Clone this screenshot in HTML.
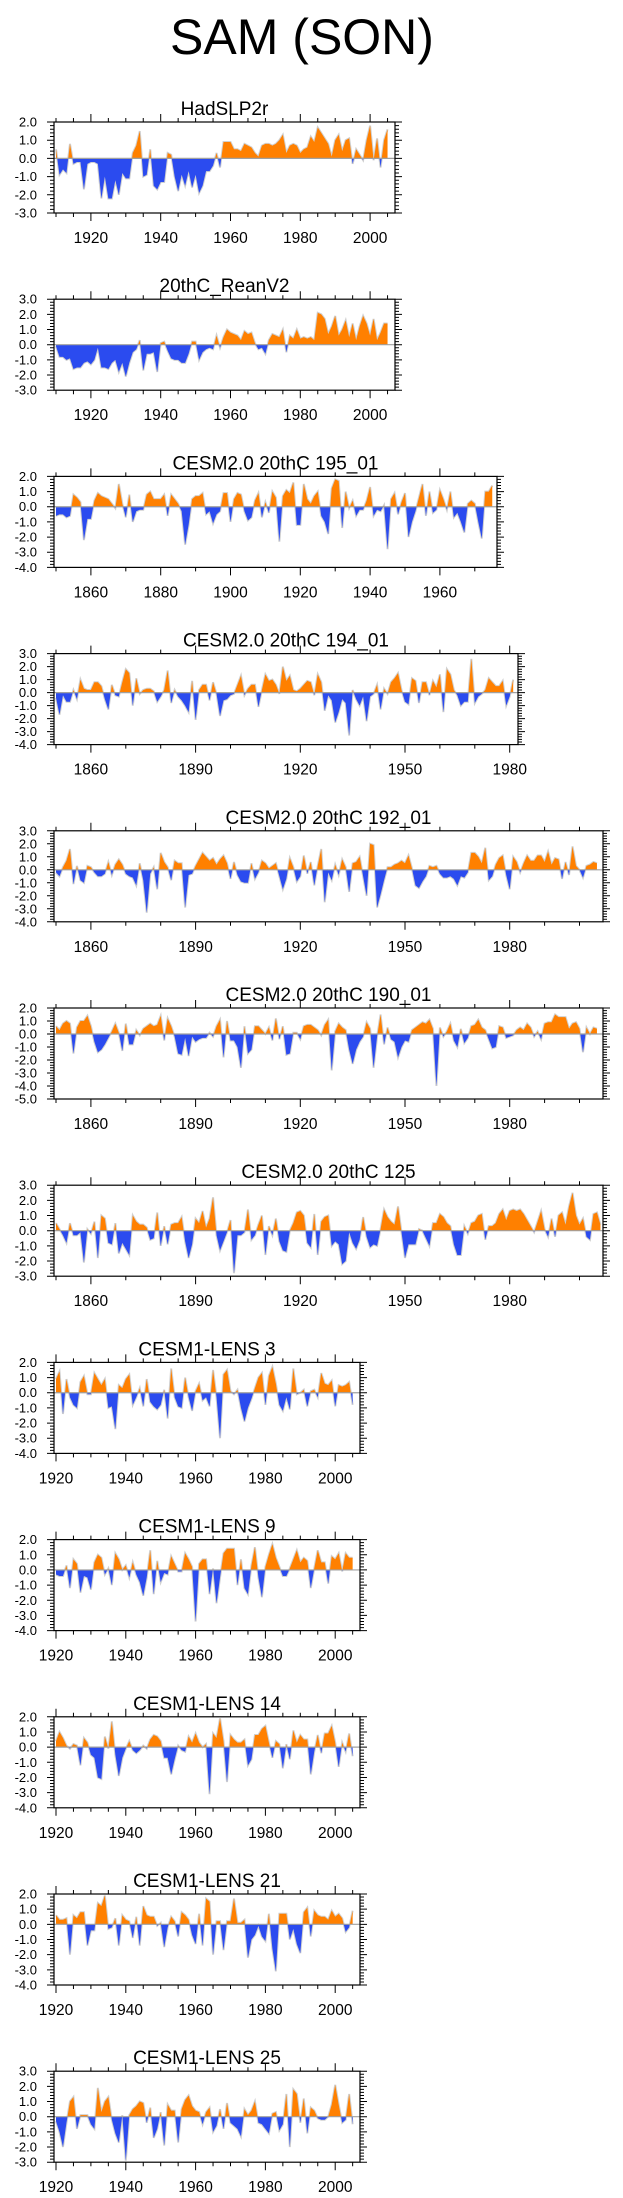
<!DOCTYPE html>
<html><head><meta charset="utf-8">
<style>
html,body{margin:0;padding:0;background:#fff;}
svg{display:block;font-family:"Liberation Sans",sans-serif;}
</style></head>
<body>
<svg id="fig" width="623" height="2198" viewBox="0 0 623 2198" xmlns="http://www.w3.org/2000/svg">
<text x="302" y="54" font-size="50" text-anchor="middle" fill="#000">SAM (SON)</text>
</svg>
<script>
const panelTitles = ["HadSLP2r","20thC_ReanV2","CESM2.0 20thC 195_01","CESM2.0 20thC 194_01","CESM2.0 20thC 192_01","CESM2.0 20thC 190_01","CESM2.0 20thC 125","CESM1-LENS 3","CESM1-LENS 9","CESM1-LENS 14","CESM1-LENS 21","CESM1-LENS 25"];
const startYears = [1910,1910,1850,1850,1850,1850,1850,1920,1920,1920,1920,1920];
const yMaxs = [2,3,2,3,3,2,3,2,2,2,2,3];
const yMins = [-3,-3,-4,-4,-4,-5,-3,-4,-4,-4,-4,-3];
const xTickFirst = [1910,1910,1850,1850,1850,1850,1850,1920,1920,1920,1920,1920];
const xMajorStep = [20,20,20,30,30,30,30,20,20,20,20,20];
const xMinorStep = [5,5,10,10,10,10,10,5,5,5,5,5];
const xLabelFirst = [1920,1920,1860,1860,1860,1860,1860,1920,1920,1920,1920,1920];
const xLabelLast = [2000,2000,1960,1980,1980,1980,1980,2000,2000,2000,2000,2000];

const vHad = [0.5,-0.9,-0.6,-0.8,0.8,-0.3,-0.2,-0.2,-1.7,-0.3,-0.2,-0.2,-0.3,-2.2,-1.0,-2.2,-2.2,-1.2,-2.0,-0.8,-1.1,-1.1,0.3,0.7,1.5,-1.0,-0.9,0.5,-1.5,-1.7,-1.3,-1.3,0.3,0.2,-1.0,-1.8,-0.9,-1.5,-0.7,-1.6,-0.9,-1.9,-1.5,-0.7,-0.7,-0.4,0.3,-0.5,0.9,0.9,0.9,0.5,0.5,0.4,0.8,0.7,0.6,0.3,0.1,0.7,0.8,0.8,0.7,0.8,1.0,1.3,0.3,0.7,0.8,0.7,0.3,0.5,0.6,1.2,0.9,1.7,1.4,1.1,0.8,0.1,1.0,1.3,0.4,1.0,1.1,-0.3,0.5,0.2,-0.1,1.0,1.8,-0.1,1.1,-0.5,1.0,1.6];
const vRean = [-0.1,-0.8,-0.8,-1.0,-0.9,-1.6,-1.5,-1.5,-1.2,-1.1,-1.3,-1.0,-0.2,-1.5,-1.5,-1.6,-1.2,-1.0,-1.8,-1.2,-2.1,-1.2,-0.5,-0.3,0.3,-1.7,-0.6,-0.6,-0.5,-1.8,0.1,0.2,-0.4,-0.9,-1.0,-1.0,-1.2,-1.2,-0.6,0.2,0.2,-1.0,-0.5,-0.3,-0.2,-0.3,0.6,-0.2,0.5,1.0,0.8,0.7,0.6,0.3,0.9,0.7,0.8,0.1,-0.3,-0.2,-0.6,0.3,0.7,0.6,0.5,1.0,-0.5,0.6,0.4,1.0,0.4,0.5,0.4,0.5,0.3,2.1,2.0,1.7,0.7,1.2,1.9,0.6,1.0,1.6,0.5,1.4,0.3,1.2,1.9,1.4,0.6,1.7,0.3,0.8,1.4,1.4];
const v195 = [-0.6,-0.5,-0.5,-0.7,-0.6,0.8,0.6,0.3,-2.2,-0.8,-0.8,0.4,0.9,0.7,0.6,0.5,0.2,-0.1,1.5,0.2,-0.7,0.8,-1.0,-0.3,-0.2,-0.2,0.8,1.0,0.5,0.5,0.5,0.8,-0.6,0.8,0.5,0.2,-0.3,-2.5,-1.2,0.5,0.7,0.7,0.9,-0.5,-0.3,-1.1,-0.5,-0.3,0.9,0.9,-1.0,0.5,0.9,0.8,-0.3,-0.9,-0.7,0.4,0.9,-0.7,0.3,-0.4,1.0,0.6,-2.3,0.7,1.1,0.9,1.6,-1.2,-1.2,1.5,0.5,0.2,0.7,1.0,-0.6,-1.0,-1.8,1.2,1.8,1.7,-1.4,1.0,-0.1,0.4,-0.6,-0.2,-0.2,0.4,1.3,-0.6,-0.2,-0.3,0.1,-2.8,0.5,0.9,-0.5,0.3,0.9,-2.0,-1.0,-0.3,0.6,1.5,-0.6,1.0,-0.4,-0.2,1.1,0.5,-0.2,1.0,-0.7,-0.4,-1.0,-1.7,0.2,0.4,0.2,-1.0,-2.1,1.0,1.0,1.4];
const v194 = [-0.4,-1.7,-0.2,-0.7,-0.7,0.2,-0.5,1.0,0.3,0.2,0.2,0.8,0.8,0.5,-0.5,-1.3,0.6,-0.2,-0.3,0.8,1.8,1.5,-1.0,1.1,-0.1,0.2,0.3,0.3,0.1,-0.7,-0.3,0.2,1.7,-0.8,0.2,-0.3,-0.6,-1.0,-1.5,0.9,-2.1,0.2,0.6,0.6,-0.6,0.8,-0.1,-1.8,-0.6,-0.5,-0.2,-0.1,0.6,1.3,-0.2,0.3,0.6,0.6,-1.1,0.2,1.4,0.9,1.0,0.6,-0.1,2.0,0.9,1.3,0.2,0.1,0.3,0.6,0.9,0.8,-0.2,1.4,0.8,-1.4,-0.2,-0.6,-2.3,-1.5,-0.5,-0.8,-3.3,0.2,-0.5,-1.0,-0.3,-2.2,-0.3,-0.1,0.6,-1.3,0.3,-0.1,0.8,1.1,1.5,0.2,-0.7,-0.9,1.1,0.9,-0.8,0.8,0.8,-0.2,0.9,0.4,1.4,-1.5,1.8,1.4,0.2,-0.2,-1.0,-0.7,-0.7,2.6,-0.8,-0.3,-0.1,0.2,1.1,0.8,0.5,0.5,0.9,-1.0,-0.3,1.0];
const v192 = [-0.2,-0.5,0.2,0.7,1.6,-1.1,0.3,-0.8,-1.0,0.3,0.2,-0.2,-0.5,-0.5,-0.3,0.6,-0.4,0.4,0.8,0.4,-0.3,-0.5,-0.6,-1.2,0.5,-0.8,-3.3,-0.3,0.2,-1.5,1.3,0.6,0.2,-0.8,0.7,0.5,0.5,-2.9,-0.4,-0.3,0.3,0.8,1.3,1.0,0.7,0.9,0.4,0.8,1.1,0.5,-0.7,0.6,-0.4,-0.9,-1.0,-1.0,0.5,-0.7,-0.2,0.7,0.5,0.1,0.3,0.5,-0.5,-1.5,-0.7,0.9,0.2,-0.9,-0.5,1.1,-0.3,0.6,-1.2,0.3,1.6,-2.5,-0.2,-0.8,0.4,-0.4,0.8,0.2,-1.7,0.5,0.6,1.0,-0.5,-2.0,2.0,1.9,-2.9,-1.9,-0.8,0.2,0.2,0.4,0.5,0.7,0.5,1.1,0.1,-1.2,-1.4,-0.9,-0.5,0.3,0.2,0.3,-0.3,-0.6,-0.6,-0.5,-0.7,-1.2,-0.5,-0.6,-0.2,1.3,1.3,1.0,0.5,1.7,-0.8,-0.5,0.4,0.9,1.1,-0.4,-1.5,1.0,0.6,-0.2,0.5,1.1,0.7,0.7,1.1,1.1,0.6,1.4,0.4,0.9,0.8,-0.7,0.6,-0.4,1.8,0.3,0.0,-0.6,0.3,0.4,0.6,0.5];
const v190 = [0.6,0.3,0.8,1.0,0.8,-1.5,0.5,1.0,1.0,1.4,0.6,-0.6,-1.4,-1.2,-0.8,-0.3,0.2,0.8,0.1,-1.3,0.8,-0.8,-0.8,0.3,-0.1,0.4,0.6,0.8,0.6,0.7,1.4,-0.5,1.2,0.6,-0.2,-1.5,-1.6,-0.3,-1.7,-0.2,-0.6,-0.4,-0.3,-0.3,0.1,-0.2,0.6,1.1,-1.8,1.0,-0.5,-0.5,-1.0,-2.6,0.6,-1.5,-1.2,0.6,0.6,0.3,0.0,0.5,-0.5,1.2,-0.4,0.6,-1.6,-1.5,0.1,0.1,-0.4,0.6,0.7,0.7,0.5,0.3,-0.1,0.7,1.1,-2.8,0.2,0.8,0.5,0.3,-1.2,-2.3,-1.2,-0.6,-0.2,0.9,0.4,-2.6,-0.2,1.5,-0.8,0.5,-0.4,-0.6,-1.8,-1.0,-0.5,-0.6,0.3,0.5,0.7,0.9,0.8,1.1,0.4,-4.0,0.5,-0.2,0.2,0.8,-0.5,-1.0,0.4,-0.7,-0.3,0.6,0.7,1.1,0.5,0.3,-0.4,-1.1,-1.0,0.6,0.5,-0.3,-0.2,-0.1,0.3,0.5,0.3,0.8,0.5,-0.2,0.2,-0.4,0.8,0.9,0.9,1.5,1.3,1.3,1.3,0.4,0.8,0.9,0.4,-1.4,0.5,0.0,0.5,0.4];
const v125 = [0.5,0.1,-0.3,-0.8,0.5,-0.3,-0.3,-0.1,-2.1,0.1,-0.2,0.6,-1.8,1.0,0.8,-0.8,-0.9,0.5,-1.5,-0.8,-1.2,-1.6,1.0,0.6,0.4,0.4,0.2,-0.6,-0.5,1.2,-1.0,0.3,-0.9,0.4,0.5,0.5,0.9,-0.7,-1.8,-0.9,0.8,0.5,1.3,0.2,0.8,2.2,-0.3,-1.3,-0.7,-0.1,0.7,-2.8,-0.3,-0.3,-0.1,1.4,-0.6,-0.3,0.4,1.0,-1.6,0.3,-0.3,0.8,-0.7,-1.3,-1.4,0.0,0.5,1.2,1.3,1.0,-0.8,-1.1,1.1,-1.6,0.6,0.9,1.0,-1.0,-0.7,-0.9,-2.2,-2.0,-0.1,-0.8,-1.2,-0.6,0.9,-0.4,-1.1,-0.9,-1.0,0.1,1.4,0.9,0.6,0.4,1.6,-0.1,-1.8,-0.9,-0.9,-0.9,0.1,0.0,-0.5,-1.0,0.5,0.5,1.1,0.9,0.5,0.3,-0.9,-1.6,-1.6,0.3,-0.2,0.5,0.6,1.0,1.1,-0.6,0.3,0.3,0.5,1.1,1.4,0.7,1.3,1.4,1.3,1.4,1.1,0.7,0.3,-0.1,0.6,1.3,0.1,-0.4,0.8,-0.4,1.0,1.2,0.4,1.6,2.5,1.0,0.4,0.8,-0.4,-0.6,1.1,1.2,0.4];
const vL3 = [0.9,1.4,-1.4,0.9,-0.3,-0.8,-1.0,0.7,1.1,-0.1,-0.1,1.3,0.9,0.5,0.9,-1.0,-0.9,-2.4,0.5,0.3,0.9,1.2,-0.8,-0.3,0.3,-0.9,0.9,-0.6,-0.9,-1.1,-0.8,0.2,-1.7,1.6,-0.3,-0.9,-1.0,1.0,-0.3,-1.2,0.1,0.6,-0.5,-0.3,-0.9,1.5,-0.3,-3.0,1.2,1.5,0.1,-0.1,0.2,-1.0,-1.9,-1.0,-0.4,0.3,1.0,1.3,-0.8,1.1,1.7,0.6,-0.8,-1.2,-0.3,-1.1,1.6,-0.1,0.0,0.2,-0.9,0.1,0.2,-0.3,1.3,0.6,0.5,0.8,-0.9,0.5,0.4,0.5,0.7,-0.8];
const vL9 = [-0.3,-0.4,-0.4,0.3,-1.2,0.7,0.4,-1.5,-0.4,-0.5,-1.3,0.5,1.0,0.8,-0.3,0.1,-1.0,1.1,0.7,0.0,0.3,-0.5,0.5,-0.3,-0.8,-1.7,-0.5,1.3,-1.6,0.6,-0.8,-0.2,-0.3,0.9,0.4,-0.1,-0.1,1.1,0.7,0.2,-3.4,0.4,0.7,0.7,-1.6,0.1,-2.2,-0.5,1.1,1.4,1.4,1.4,-1.0,0.7,-1.2,-1.6,0.3,1.5,-0.5,-1.8,0.2,1.0,1.7,0.8,0.2,-0.4,-0.4,0.1,0.7,1.3,0.5,0.8,0.6,-1.2,0.1,1.3,0.5,0.5,-0.9,0.9,0.7,1.1,-0.1,1.1,0.8,0.8];
const vL14 = [0.4,1.0,0.6,0.1,-0.1,0.2,0.1,-1.2,0.6,0.3,-0.5,-0.7,-2.0,-2.1,0.7,-0.1,1.7,-0.5,-1.9,-0.7,-0.1,0.4,-0.2,-0.4,-0.2,0.1,-0.1,0.5,0.8,0.7,0.4,-0.7,-0.7,-1.8,-0.8,0.1,-0.2,-0.3,0.7,0.3,0.9,0.3,0.0,0.2,-3.1,0.9,0.6,1.9,0.4,-2.3,0.8,0.5,0.3,0.3,0.5,-1.2,-0.8,0.8,0.8,1.2,1.4,0.3,-0.7,0.4,0.2,-1.4,0.2,-0.8,1.1,0.3,0.8,0.5,0.5,-1.8,-0.3,0.8,-0.4,0.9,0.9,1.4,0.3,-1.3,0.3,-0.3,0.9,-0.6];
const vL21 = [0.6,0.3,0.3,0.4,-2.0,0.6,0.4,0.8,0.8,-1.4,-0.4,-0.4,1.4,1.2,1.9,-0.3,-0.2,0.4,-1.4,0.6,0.3,0.2,-0.9,0.5,-1.4,1.2,0.6,0.5,0.5,-0.1,0.1,-1.5,-0.2,0.5,0.2,-0.8,0.8,0.6,0.3,-0.7,-1.3,0.7,-1.4,1.7,1.5,-2.0,0.2,0.2,-1.7,0.2,0.2,1.7,0.1,0.1,0.3,-2.2,-1.0,-0.7,-0.1,-0.8,-1.1,0.7,-1.6,-3.1,0.7,0.7,0.7,-1.0,-0.3,-1.3,-1.9,0.8,1.1,-0.8,0.9,0.6,0.5,0.5,0.3,0.9,0.5,0.7,0.4,-0.5,-0.2,0.9];
const vL25 = [-0.3,-1.0,-2.0,-0.4,1.0,1.3,-0.8,0.1,0.1,0.1,-0.5,-0.8,1.9,0.3,1.0,1.3,-0.2,-1.1,-1.7,0.1,-2.9,0.1,0.5,0.7,1.0,0.9,-0.4,0.6,-1.4,-0.8,0.3,-1.9,0.8,0.4,0.4,-1.7,0.5,1.1,1.4,0.7,0.4,0.3,-0.5,0.3,0.6,-1.0,-0.6,0.5,-0.8,0.9,-0.4,-0.6,-0.8,-1.3,0.5,0.1,0.4,1.0,-0.4,-0.5,-0.8,-1.1,0.2,0.3,-0.9,-0.5,1.5,-2.0,1.8,1.5,-0.4,1.2,-1.1,0.6,0.4,-0.1,-0.2,-0.2,0.0,0.8,2.1,0.8,-0.4,-0.2,1.5,-0.5];
const seriesValues = [vHad,vRean,v195,v194,v192,v190,v125,vL3,vL9,vL14,vL21,vL25];

const NS = "http://www.w3.org/2000/svg";
const svg = document.getElementById("fig");
const BOX_LEFT = 54, BOX_H = 91, PX_PER_YEAR = 3.49;
const boxRights = [395,395,497,518,603,603,603,360,360,360,360,360];

function mk(tag, attrs, parent) {
  const e = document.createElementNS(NS, tag);
  for (const k in attrs) e.setAttribute(k, attrs[k]);
  (parent || svg).appendChild(e);
  return e;
}

for (let p = 0; p < 12; p++) {
  const top = 122 + 177.2 * p, bottom = top + BOX_H;
  const left = BOX_LEFT, right = boxRights[p];
  const yMax = yMaxs[p], yMin = yMins[p];
  const xOf = yr => 56 + (yr - xTickFirst[p]) * PX_PER_YEAR;
  const yOf = v => top + (yMax - v) / (yMax - yMin) * BOX_H;
  const g = mk("g", {});
  
  

  const t = mk("text", {x: (left + right) / 2, y: top - 7, "font-size": 19, "text-anchor": "middle", fill: "#000"}, g);
  t.textContent = panelTitles[p];
  
  

  const vals = seriesValues[p];
  const y0 = yOf(0);
  let d = "M" + xOf(startYears[p]).toFixed(2) + "," + y0.toFixed(2);
  let line = "";
  vals.forEach((v, i) => {
    const px = xOf(startYears[p] + i).toFixed(2), py = yOf(v).toFixed(2);
    d += " L" + px + "," + py;
    line += (i ? " L" : "M") + px + "," + py;
  });
  d += " L" + xOf(startYears[p] + vals.length - 1).toFixed(2) + "," + y0.toFixed(2) + " Z";

  const cpA = mk("clipPath", {id: "ca" + p}, g);
  mk("rect", {x: left, y: top, width: right - left, height: y0 - top}, cpA);
  const cpB = mk("clipPath", {id: "cb" + p}, g);
  mk("rect", {x: left, y: y0, width: right - left, height: bottom - y0}, cpB);

  const ln = mk("path", {d: line, fill: "none", stroke: "#d0d0d0", "stroke-width": 2}, g);
  
  
  const pos = mk("path", {d: d, fill: "#ff8000", "clip-path": "url(#ca" + p + ")"}, g);
  
  
  const neg = mk("path", {d: d, fill: "#2b4bef", "clip-path": "url(#cb" + p + ")"}, g);
  
  
  const zl = mk("line", {x1: left, x2: right, y1: y0, y2: y0, stroke: "#a0a0a0", "stroke-width": 1.2}, g);
  
  

  const box = mk("rect", {x: left, y: top, width: right - left, height: BOX_H, fill: "none", stroke: "#000", "stroke-width": 1.2}, g);
  
  

  // y ticks
  let tk = "";
  const nMinor = (yMax - yMin) * 5;
  for (let k = 0; k <= nMinor; k++) {
    const v = yMax - k / 5;
    const yy = yOf(v).toFixed(2);
    const L = (k % 5 === 0) ? 7 : 4;
    tk += "M" + (left - L) + "," + yy + " H" + left + " M" + right + "," + yy + " H" + (right + L) + " ";
  }
  for (let v = yMax; v >= yMin; v--) {
    const lab = mk("text", {x: 37, y: yOf(v) + 4.5, "font-size": 13, "text-anchor": "end", fill: "#000"}, g);
    lab.textContent = v.toFixed(1);
    
    
  }
  // x ticks
  for (let yr = xTickFirst[p]; xOf(yr) <= right; yr += xMinorStep[p]) {
    const xx = xOf(yr).toFixed(2);
    const major = ((yr - xLabelFirst[p]) % xMajorStep[p] === 0);
    const L = major ? 8 : 4;
    tk += "M" + xx + "," + (top - L) + " V" + top + " M" + xx + "," + bottom + " V" + (bottom + L) + " ";
  }
  const ticks = mk("path", {d: tk, stroke: "#000", "stroke-width": 1, fill: "none"}, g);
  
  
  for (let yr = xLabelFirst[p]; yr <= xLabelLast[p]; yr += xMajorStep[p]) {
    const lab = mk("text", {x: xOf(yr), y: bottom + 30, "font-size": 15.5, "text-anchor": "middle", fill: "#000"}, g);
    lab.textContent = String(yr);
    
    
  }
}
</script>
</body></html>
